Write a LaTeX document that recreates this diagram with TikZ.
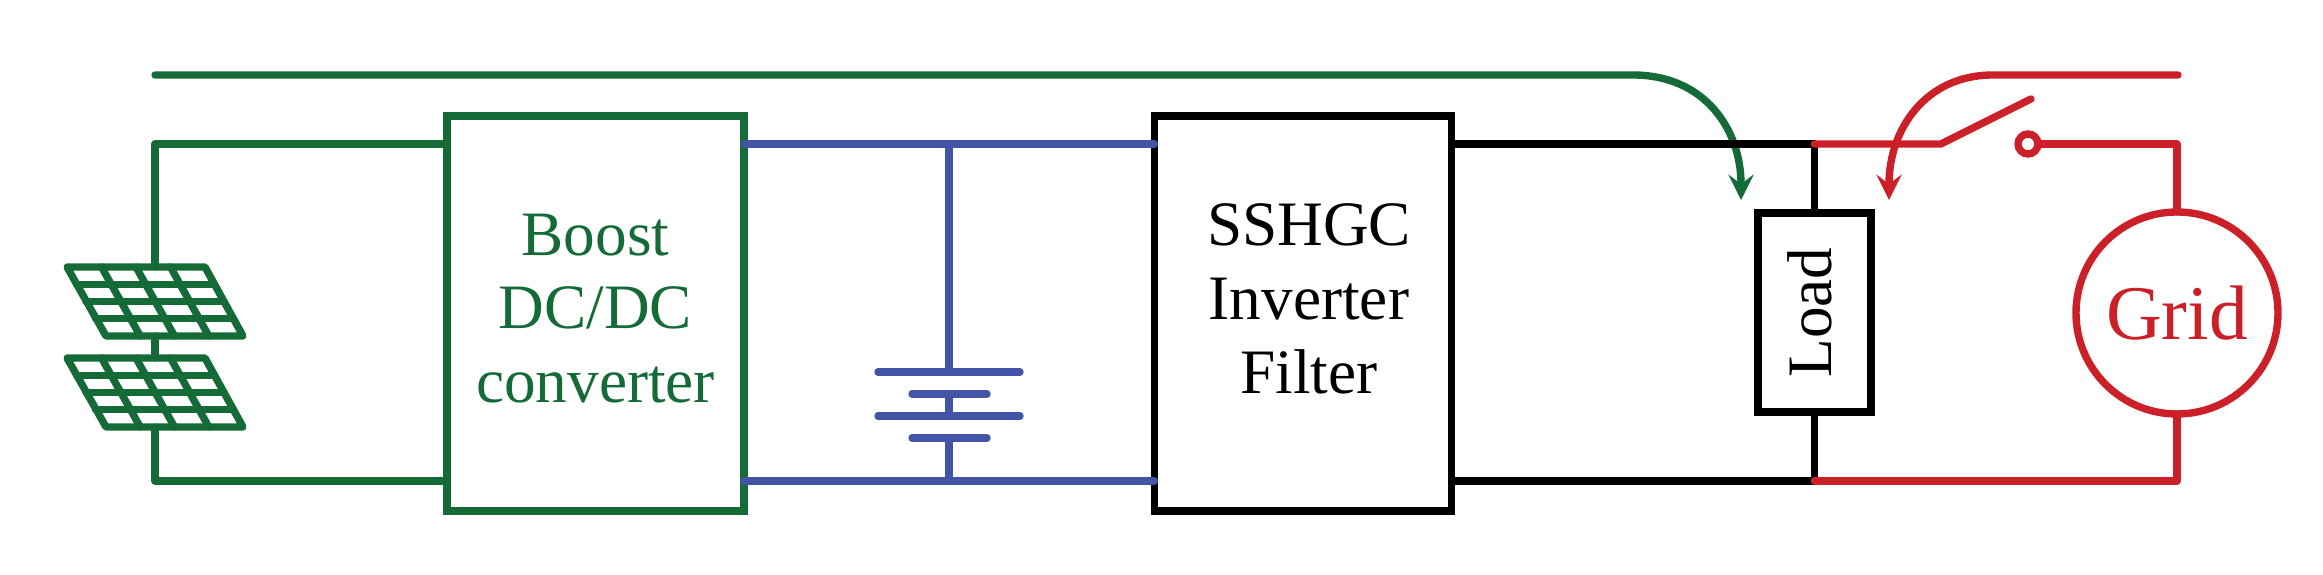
\documentclass[tikz,border=0pt]{standalone}
\usepackage{fontspec}
\setmainfont{Liberation Serif}
\definecolor{pvgreen}{HTML}{156B37}
\definecolor{dcblue}{HTML}{4353A6}
\definecolor{gridred}{HTML}{CC2029}
\tikzset{
	wire/.style={line width=2.1pt, line join=round, line cap=round},
	blockbox/.style={draw, line width=2.1pt, minimum width=2.97cm, minimum height=3.95cm, outer sep=0pt},
	blocktext/.style={align=center, font=\fontsize{18}{21}\selectfont},
}

\begin{document}
\begin{tikzpicture}
	\useasboundingbox (0,0) rectangle (23.23,5.75);
	\node[blockbox, pvgreen] (boost) at (5.955,2.615) {};
	\node[blocktext, text=pvgreen, yshift=0.05cm] (boosttext) at (boost.center) {Boost\\DC/DC\\converter};
	\node[blockbox] (filter) at (13.03,2.615) {};
	\node[blocktext, xshift=0.06cm, yshift=0.145cm] (filtertext) at (filter.center) {SSHGC\\Inverter\\Filter};
	\node[draw, line width=2.1pt, minimum width=1.13cm, minimum height=1.99cm, outer sep=0pt] (load) at (18.145,2.625) {};
	\node[blocktext, rotate=90, yshift=0.05cm] (loadtext) at (load.center) {Load};
	\node[circle, draw, gridred, line width=2.1pt, minimum size=2.02cm, inner sep=0pt, outer sep=0pt, text=gridred, font=\fontsize{22}{24}\selectfont] (grid) at (21.77,2.62) {Grid};
	\node[circle, draw, gridred, line width=2.1pt, minimum size=0.2cm, inner sep=0pt, outer sep=0pt] (contact) at (20.28,4.31) {};
	% rails
	\coordinate (railtop) at (0,4.31);
	\coordinate (railbot) at (0,0.94);
	\coordinate (pvtop) at (1.55,4.31);
	\coordinate (pvbot) at (1.55,0.94);
	\coordinate (batt) at (9.49,0);
	\coordinate (hinge) at (19.41,4.31);
	\coordinate (blade) at (20.31,4.76);
	\coordinate (panela) at (1.55,3.08);
	\coordinate (panelb) at (1.55,2.39);
	\coordinate (panelc) at (1.55,2.17);
	\coordinate (paneld) at (1.55,1.48);
	% solar panels
	\foreach \ytop in {3.08,2.17}{
		\pgfmathsetmacro{\ybot}{\ytop-0.69}
		\draw[wire, pvgreen] (0.67,\ytop) -- (2.05,\ytop) -- (2.43,\ybot) -- (1.06,\ybot) -- cycle;
		\foreach \i in {1,2,3}{
			\draw[wire, pvgreen] ({0.67+0.095*\i},{\ytop-0.1725*\i}) -- ({2.05+0.095*\i},{\ytop-0.1725*\i});
			\draw[wire, pvgreen] ({0.67+0.345*\i},\ytop) -- ({1.06+0.3425*\i},\ybot);
		}
	}
	\draw[wire, pvgreen] (boost.west |- railtop) -- (pvtop) -- (panela);
	\draw[wire, pvgreen] (panelb) -- (panelc);
	\draw[wire, pvgreen] (paneld) -- (pvbot) -- (boost.west |- railbot);
	% battery
	\draw[wire, dcblue] (boost.east |- railtop) -- (filter.west |- railtop);
	\draw[wire, dcblue] (boost.east |- railbot) -- (filter.west |- railbot);
	\draw[wire, dcblue] (batt |- railtop) -- (9.49,2.03);
	\draw[wire, dcblue] (9.49,1.81) -- (9.49,1.59);
	\draw[wire, dcblue] (9.49,1.37) -- (batt |- railbot);
	\draw[wire, dcblue] (8.78,2.03) -- (10.20,2.03);
	\draw[wire, dcblue] (9.12,1.81) -- (9.87,1.81);
	\draw[wire, dcblue] (8.78,1.59) -- (10.20,1.59);
	\draw[wire, dcblue] (9.12,1.37) -- (9.87,1.37);
	% control signals
	\coordinate (greenstart) at (1.55,5.00);
	\coordinate (greenbend) at (16.33,5.00);
	\coordinate (greentip) at (17.41,3.75);
	\draw[wire, pvgreen, -stealth] (greenstart) -- (greenbend) .. controls (17.05,5.00) and (17.41,4.45) .. (greentip);
	\coordinate (redstart) at (21.78,5.00);
	\coordinate (redbend) at (19.93,5.00);
	\coordinate (redtip) at (18.89,3.75);
	\draw[wire, gridred, -stealth] (redstart) -- (redbend) .. controls (19.25,5.00) and (18.89,4.45) .. (redtip);
	% output side
	\draw[wire] (filter.east |- railtop) -- (load.north |- railtop) -- (load.north);
	\draw[wire] (filter.east |- railbot) -- (load.south |- railbot) -- (load.south);
	\draw[wire, gridred] (load.north |- railtop) -- (hinge) -- (blade);
	\draw[wire, gridred] (contact.east) -- (grid.north |- railtop) -- (grid.north);
	\draw[wire, gridred] (load.south |- railbot) -- (grid.south |- railbot) -- (grid.south);
\end{tikzpicture}
\end{document}
